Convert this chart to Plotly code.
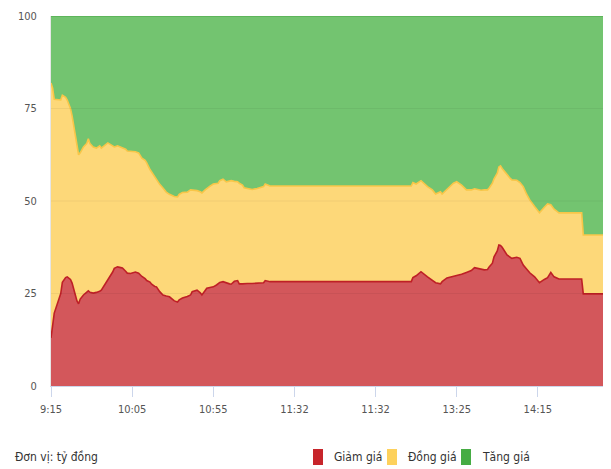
import plotly.graph_objects as go

# Position index (one step per trading minute); ticks every 50 steps
x_idx = [0, 1, 2, 6, 7, 9, 10, 12, 13, 15, 16, 17, 18, 20, 22, 23, 24, 26, 28, 29,
         30, 31, 33, 35, 38, 39, 41, 43, 44, 46, 47, 49, 50, 52, 54, 56, 58, 59, 61, 62,
         64, 65, 67, 69, 71, 73, 76, 78, 79, 81, 84, 86, 87, 90, 92, 93, 95, 96, 98, 100,
         102, 103, 104, 106, 108, 110, 111, 113, 115, 116, 118, 119, 121, 124, 127, 131, 132, 135, 222, 223,
         225, 228, 232, 235, 237, 240, 241, 244, 248, 250, 253, 256, 259, 261, 263, 265, 267, 269, 270, 272,
         273, 275, 276, 277, 278, 281, 283, 284, 287, 289, 291, 293, 295, 298, 301, 304, 306, 308, 310, 312,
         313, 327, 328, 342]

# Upper edge of the "Giảm giá" band (%)
giam_top = [13.0, 16.0, 19.7, 25.0, 28.0, 29.3, 29.5, 28.8, 27.8, 24.6, 23.0, 22.2, 23.5, 24.6, 25.5, 25.7, 25.3, 25.1, 25.3, 25.4,
            25.6, 25.9, 27.2, 28.5, 30.8, 31.8, 32.2, 32.0, 31.9, 31.0, 30.5, 30.4, 30.6, 30.8, 30.5, 29.6, 29.0, 28.5, 28.1, 27.5,
            26.9, 26.8, 25.5, 24.6, 24.3, 24.1, 23.0, 22.7, 23.3, 23.8, 24.2, 24.6, 25.5, 25.9, 25.2, 24.6, 25.8, 26.4, 26.6, 26.8,
            27.3, 27.7, 28.0, 28.2, 27.8, 27.6, 27.5, 28.3, 28.5, 27.6, 27.6, 27.7, 27.7, 27.7, 27.8, 27.9, 28.5, 28.2, 28.2, 29.3,
            29.8, 30.9, 29.5, 28.5, 27.9, 27.6, 28.2, 29.2, 29.6, 29.9, 30.2, 30.7, 31.2, 32.0, 31.8, 31.6, 31.4, 31.5, 32.2, 33.2,
            34.9, 36.5, 38.1, 38.0, 37.5, 35.4, 34.7, 34.5, 34.8, 34.5, 32.7, 31.5, 30.6, 29.5, 27.9, 28.8, 29.3, 30.7, 29.5, 29.1,
            28.9, 28.9, 24.9, 24.9]

# Upper edge of the "Đồng giá" band (%)
dong_top = [81.9, 80.5, 77.5, 77.3, 78.6, 78.0, 77.3, 75.0, 73.0, 68.0, 64.6, 62.5, 63.0, 64.6, 65.5, 66.8, 65.5, 64.6, 64.3, 64.6,
            64.9, 64.3, 65.0, 65.7, 64.9, 64.6, 64.9, 64.6, 64.3, 64.0, 63.5, 63.5, 63.5, 63.3, 63.0, 61.6, 61.0, 60.3, 58.5, 57.8,
            56.5, 55.7, 54.5, 53.5, 52.4, 51.8, 51.2, 51.1, 51.8, 52.3, 52.4, 53.0, 53.0, 52.8, 52.5, 52.2, 53.0, 53.4, 54.0, 54.6,
            54.7, 54.8, 55.5, 55.9, 55.2, 55.4, 55.5, 55.3, 55.2, 54.8, 54.3, 53.6, 53.4, 53.1, 53.4, 53.9, 54.6, 54.05, 54.05, 55.0,
            54.6, 55.5, 53.9, 53.0, 51.9, 52.5, 51.9, 53.2, 54.8, 55.2, 54.3, 53.0, 53.0, 53.3, 53.0, 52.9, 53.0, 53.0, 53.5, 54.8,
            56.0, 57.5, 59.2, 59.5, 58.8, 57.0, 56.1, 55.7, 55.6, 55.0, 53.9, 51.9, 50.3, 48.5, 46.8, 48.3, 49.2, 49.0, 47.8, 47.1,
            46.8, 46.8, 40.8, 40.8]

# Upper edge of the "Tăng giá" band (%)
tang_top = [100] * len(x_idx)

tick_vals = [0, 50, 100, 150, 200, 250, 300]
tick_text = ["9:15", "10:05", "10:55", "11:32", "11:32", "13:25", "14:15"]
y_ticks = [0, 25, 50, 75, 100]
grid_levels = [25, 50, 75]

names = ["Giảm giá", "Đồng giá", "Tăng giá"]
fills = ["#D3575B", "#FDD879", "#73C470"]
lines = ["#BE2026", "#F8C648", "#5DB55A"]
legend_cols = ["#C7252B", "#FDD15C", "#46AC44"]

FONT = "DejaVu Sans Condensed, Roboto, sans-serif"

# layout geometry (pixels inside the figure)
W, H = 603, 461
ML, MR, MT, MB = 43, 5, 8, 83
PW, PH = W - ML - MR, H - MT - MB


def px_x(px):
    return (px - ML) / PW


def px_y(py):
    return (H - MB - py) / PH


fig = go.Figure()
ys = [giam_top, dong_top, tang_top]
fill_modes = ["tozeroy", "tonexty", "tonexty"]
widths = [1.6, 1.6, 2]
for i in range(3):
    fig.add_trace(go.Scatter(x=x_idx, y=ys[i], mode="lines", fill=fill_modes[i], name=names[i],
                             fillcolor=fills[i], line=dict(color=lines[i], width=widths[i]),
                             showlegend=False, hoverinfo="skip"))

for g in grid_levels:
    fig.add_shape(type="line", xref="paper", x0=0, x1=1, yref="y", y0=g, y1=g,
                  line=dict(color="rgba(0,0,0,0.05)", width=1), layer="above")

annotations = [dict(text="Đơn vị: tỷ đồng", xref="paper", yref="paper",
                    x=px_x(5), y=px_y(449), xanchor="left", yanchor="middle",
                    showarrow=False, font=dict(family=FONT, size=12, color="#333333"))]

# legend: colour swatch + label
leg_start = 305
leg_step = 74
for i, n in enumerate(names):
    x0 = leg_start + i * leg_step
    fig.add_shape(type="rect", xref="paper", yref="paper",
                  x0=px_x(x0), x1=px_x(x0 + 10), y0=px_y(441), y1=px_y(457),
                  fillcolor=legend_cols[i], line=dict(width=0))
    annotations.append(dict(text=n, xref="paper", yref="paper",
                            x=px_x(x0 + 19), y=px_y(449), xanchor="left", yanchor="middle",
                            showarrow=False, font=dict(family=FONT, size=12, color="#333333")))

fig.update_layout(
    width=W, height=H,
    margin=dict(l=ML, r=MR, t=MT, b=MB, autoexpand=False),
    paper_bgcolor="white", plot_bgcolor="white",
    font=dict(family=FONT, size=11, color="#333333"),
    showlegend=False,
    xaxis=dict(range=[0, 342], tickmode="array", tickvals=tick_vals, ticktext=tick_text,
               showgrid=False, zeroline=False, showline=True, linecolor="#ccd6eb",
               ticks="outside", ticklen=10, tickcolor="#ccd6eb", ticklabelstandoff=3,
               tickfont=dict(family=FONT, size=11, color="#555555")),
    yaxis=dict(range=[0, 100], tickmode="array", tickvals=y_ticks,
               showgrid=False, zeroline=False, showline=True, linecolor="#e6e6e6",
               ticks="", ticklabelstandoff=11,
               tickfont=dict(family=FONT, size=11, color="#555555")),
    annotations=annotations,
)

fig.write_html("out.html")
